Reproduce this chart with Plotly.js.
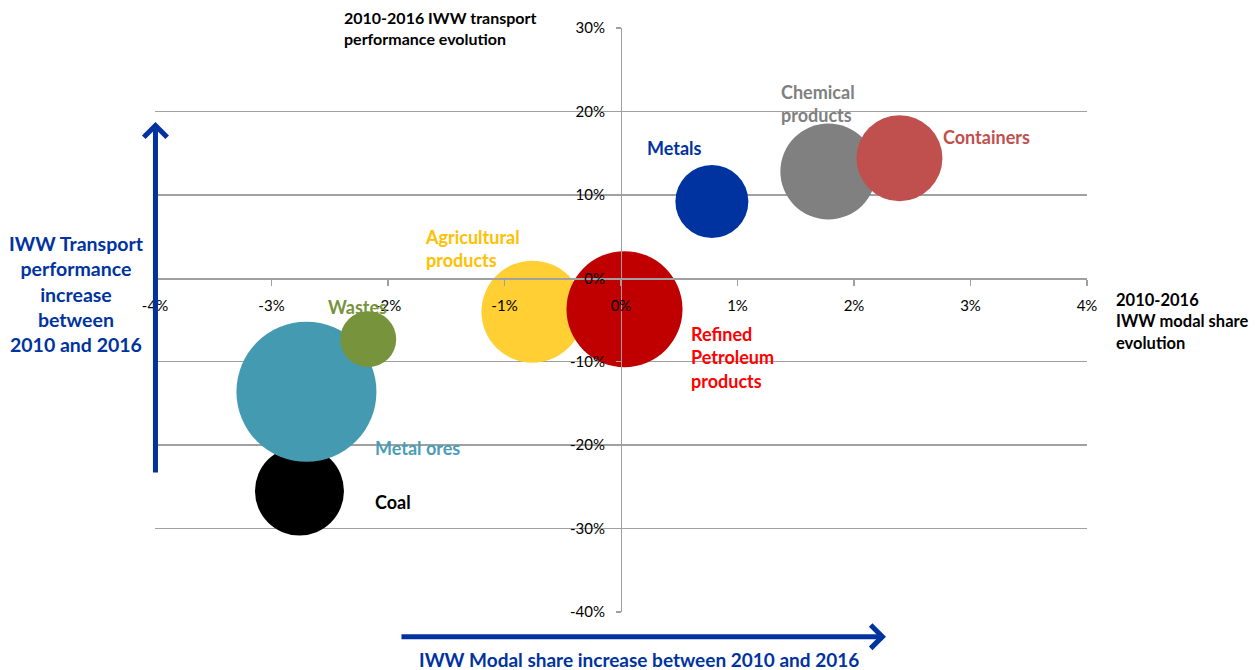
<!DOCTYPE html>
<html>
<head>
<meta charset="utf-8">
<script src="https://cdn.plot.ly/plotly-3.0.1.min.js"></script>
<style>html,body{margin:0;padding:0;background:#fff;}#chart{width:1255px;height:670px;}</style>
</head>
<body>
<div id="chart"></div>
<script>
// ---- data ----
const categories = ['Coal', 'Metal ores', 'Wastes', 'Agricultural products', 'Refined Petroleum products', 'Metals', 'Chemical products', 'Containers'];
const modalShareEvolution = [-2.76, -2.70, -2.17, -0.76, 0.03, 0.78, 1.78, 2.39];   // x, %
const transportPerfEvolution = [-25.5, -13.6, -7.3, -4.0, -3.7, 9.2, 12.8, 14.4];   // y, %
const bubbleSize = [89, 140, 56, 102, 116, 73, 96, 86];
const xTickValues = [-4, -3, -2, -1, 0, 1, 2, 3, 4];
const xTickLabels = ['-4%', '-3%', '-2%', '-1%', '0%', '1%', '2%', '3%', '4%'];
const yTickValues = [-40, -30, -20, -10, 0, 10, 20, 30];
const yTickLabels = ['-40%', '-30%', '-20%', '-10%', '0%', '10%', '20%', '30%'];

// ---- styles ----
const bubbleColors = ['#000000', '#449AB0', '#77933C', '#FFCF33', '#C00000', '#0033A0', '#808080', '#C0504D'];
const labelColors = ['#000000', '#4A9DB5', '#77933C', '#FFC000', '#FF0000', '#0033A0', '#808080', '#C0504D'];
const labelDisplay = ['Coal', 'Metal ores', 'Wastes', 'Agricultural<br>products', 'Refined<br>Petroleum<br>products', 'Metals', 'Chemical<br>products', 'Containers'];
const labelPos = [
  {x: -2.131, y: -26.8, xa: 'left'},
  {x: -2.131, y: -20.3, xa: 'left'},
  {x: -2.258, y: -3.44, xa: 'center'},
  {x: -1.697, y: 3.57, xa: 'left'},
  {x: 0.584, y: -9.5, xa: 'left'},
  {x: 0.455, y: 15.6, xa: 'center'},
  {x: 1.356, y: 20.95, xa: 'left'},
  {x: 2.745, y: 16.9, xa: 'left'}
];
const FONT = 'Lato, "Open Sans", sans-serif';
const BLUE = '#0033A0';

const trace = {
  type: 'scatter',
  mode: 'markers',
  x: modalShareEvolution,
  y: transportPerfEvolution,
  text: categories,
  marker: {size: bubbleSize, sizemode: 'diameter', sizeref: 1, color: bubbleColors, opacity: 1, line: {width: 0}},
  hoverinfo: 'text',
  cliponaxis: false
};

const annotations = categories.map((c, i) => ({
  xref: 'x', yref: 'y', x: labelPos[i].x, y: labelPos[i].y,
  xanchor: labelPos[i].xa, yanchor: 'middle', align: 'left',
  text: '<b>' + labelDisplay[i] + '</b>', showarrow: false,
  font: {family: FONT, size: 18, color: labelColors[i]}
}));

annotations.push(
  {xref: 'paper', yref: 'paper', x: 0.2003, y: 0.9995, xanchor: 'left', yanchor: 'middle', align: 'left', showarrow: false,
   text: '<b>2010-2016 IWW transport<br>performance evolution</b>', font: {family: FONT, size: 16, color: '#000'}},
  {xref: 'paper', yref: 'paper', x: 1.029, y: 0.4974, xanchor: 'left', yanchor: 'middle', align: 'left', showarrow: false,
   text: '<b>2010-2016<br>IWW modal share<br>evolution</b>', font: {family: FONT, size: 16.5, color: '#000'}},
  {xref: 'paper', yref: 'paper', x: -0.0842, y: 0.5447, xanchor: 'center', yanchor: 'middle', align: 'center', showarrow: false,
   text: '<b>IWW Transport<br>performance<br>increase<br>between<br>2010 and 2016</b>', font: {family: FONT, size: 19.5, color: BLUE}},
  {xref: 'paper', yref: 'paper', x: 0.5193, y: -0.0805, xanchor: 'center', yanchor: 'middle', showarrow: false,
   text: '<b>IWW Modal share increase between 2010 and 2016</b>', font: {family: FONT, size: 19, color: BLUE}},
  // arrows
  {xref: 'paper', yref: 'paper', x: 0.0005, y: 0.839, ax: 0, ay: 352, text: '', showarrow: true,
   arrowhead: 4, arrowsize: 0.9, arrowwidth: 5, arrowcolor: BLUE},
  {xref: 'paper', yref: 'paper', x: 0.7843, y: -0.0423, ax: -486, ay: 0, text: '', showarrow: true,
   arrowhead: 4, arrowsize: 0.9, arrowwidth: 5, arrowcolor: BLUE}
);

const layout = {
  width: 1255, height: 670,
  margin: {l: 155, r: 168, t: 28, b: 58, pad: 0},
  paper_bgcolor: '#fff', plot_bgcolor: '#fff',
  showlegend: false,
  font: {family: FONT, size: 15, color: '#000'},
  xaxis: {
    range: [-4, 4], domain: [0, 1], anchor: 'free', position: 40 / 70,
    tickvals: xTickValues, ticktext: xTickLabels,
    showgrid: false, zeroline: false,
    showline: true, linecolor: '#A0A0A0', linewidth: 1.3,
    ticks: 'outside', ticklen: 6, tickcolor: '#A0A0A0', tickwidth: 1.3,
    ticklabelstandoff: 7,
    tickfont: {family: FONT, size: 15, color: '#000'}
  },
  yaxis: {
    range: [-40, 30], domain: [0, 1], anchor: 'free', position: 0.5,
    tickvals: yTickValues, ticktext: yTickLabels,
    showgrid: true, gridcolor: '#A0A0A0', gridwidth: 1.3, zeroline: false,
    showline: true, linecolor: '#A0A0A0', linewidth: 1.3,
    ticks: 'outside', ticklen: 5, tickcolor: '#A0A0A0', tickwidth: 1.3,
    ticklabelstandoff: 8,
    tickfont: {family: FONT, size: 15, color: '#000'}
  },
  annotations: annotations
};

Plotly.newPlot('chart', [trace], layout, {displayModeBar: false, staticPlot: true});
</script>
</body>
</html>
